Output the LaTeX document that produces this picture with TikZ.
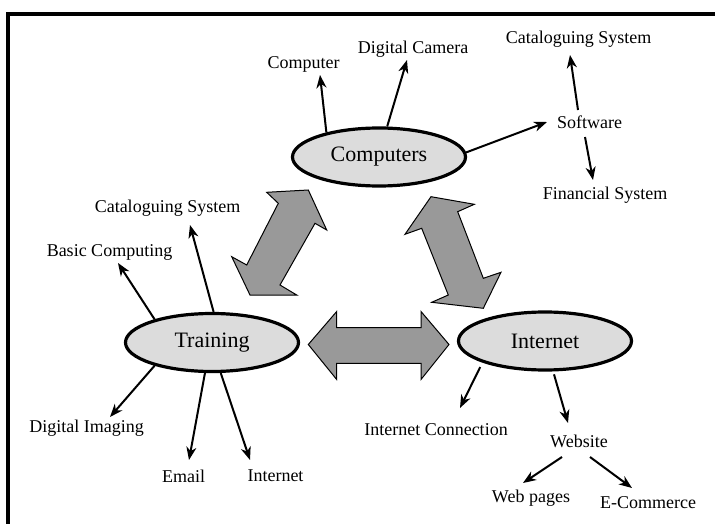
\documentclass[tikz,border=0pt]{standalone}
\usepackage{fontspec}
\setmainfont{Liberation Serif}
\usetikzlibrary{shapes.geometric,arrows.meta,calc}
\definecolor{bubble}{HTML}{DCDCDC}
\definecolor{blockgray}{HTML}{999999}
\begin{document}
\begin{tikzpicture}[x=1pt,y=-1pt,
  hub/.style={ellipse,draw,line width=3.2pt,fill=bubble,inner sep=0pt,
    minimum width=173pt,minimum height=58pt,font=\fontsize{22}{24}\selectfont},
  item/.style={inner sep=0pt,font=\fontsize{18}{20}\selectfont},
  link/.style={line width=2pt,-{Stealth[length=13pt,width=10pt,inset=4pt]}},
  block/.style={fill=blockgray,draw=black,line width=1pt,line join=miter}]
\useasboundingbox (0,0) rectangle (715,524);

% frame
\draw[line width=4pt,line join=miter] (8,524) -- (8,13.7) -- (715,13.7);

% double block arrows between the three hubs
\draw[block] (266.7,192.3) -- (308.3,190) -- (326.7,230) -- (315,223.3)
  -- (280,285) -- (296.7,295) -- (250,295) -- (231.7,256.7) -- (246.7,265)
  -- (278.3,203.3) -- cycle;
\draw[block] (431,196.7) -- (474.3,204.3) -- (457.7,211.7) -- (483.3,278.3)
  -- (501,272.3) -- (483.3,308.3) -- (431.7,302.3) -- (448.3,295)
  -- (421.7,228.3) -- (405,234.3) -- cycle;
\draw[block] (308.3,344.5) -- (336.7,311.5) -- (336.7,327.7) -- (421,327.7)
  -- (421,311.5) -- (449,344.5) -- (421,379.5) -- (421,363.3)
  -- (336.7,363.3) -- (336.7,379.5) -- cycle;

% hubs
\node[hub] (comp) at (379,157) {Computers};
\node[hub] (train) at (212,342.5) {Training};
\node[hub] (inet) at (545,341) {Internet};

% labels
\node[item] (computer) at (303.5,64.5) {Computer};
\node[item] (camera) at (413,49.5) {Digital Camera};
\node[item] (soft) at (589.5,122.5) {Software};
\node[item] (catA) at (578.5,39.5) {Cataloguing System};
\node[item] (fin) at (605,195.5) {Financial System};
\node[item] (catB) at (167.5,208.5) {Cataloguing System};
\node[item] (basic) at (109.5,252) {Basic Computing};
\node[item] (imaging) at (86.5,428) {Digital Imaging};
\node[item] (email) at (183.5,476) {Email};
\node[item] (internet) at (275.5,476) {Internet};
\node[item] (conn) at (436,430) {Internet Connection};
\node[item] (web) at (579,441) {Website};
\node[item] (pages) at (531,498) {Web pages};
\node[item] (ecom) at (648,503) {E-Commerce};

% connectors
\draw[link] (comp.155) -- ($(computer)+(16.5,10.5)$);
\draw[link] (comp.75) -- ($(camera)+(-6,10.5)$);
\draw[link] (comp.3) -- ($(soft)+(-42.5,-0.5)$);
\draw[link] ($(soft)+(-11.5,-12.5)$) -- ($(catA)+(-8.5,15.5)$);
\draw[link] ($(soft)+(-4.5,14.5)$) -- ($(fin)+(-12,-15.5)$);

\draw[link] (train.158) -- ($(basic)+(8.5,11)$);
\draw[link] (train.87) -- ($(catB)+(22.5,16.5)$);
\draw[link] (train.202) -- ($(imaging)+(23.5,-11)$);
\draw[link] (train.257) -- ($(email)+(5.5,-16)$);
\draw[link] (train.286) -- ($(internet)+(-25.5,-16)$);

\draw[link,shorten <=5pt] (inet.199) -- ($(conn)+(24,-22)$);
\draw[link,shorten <=3pt] (inet.285) -- ($(web)+(-11,-18)$);
\draw[link] ($(web)+(-17,16)$) -- ($(pages)+(-8,-15)$);
\draw[link] ($(web)+(11,16)$) -- ($(ecom)+(-16,-15)$);
\end{tikzpicture}
\end{document}
